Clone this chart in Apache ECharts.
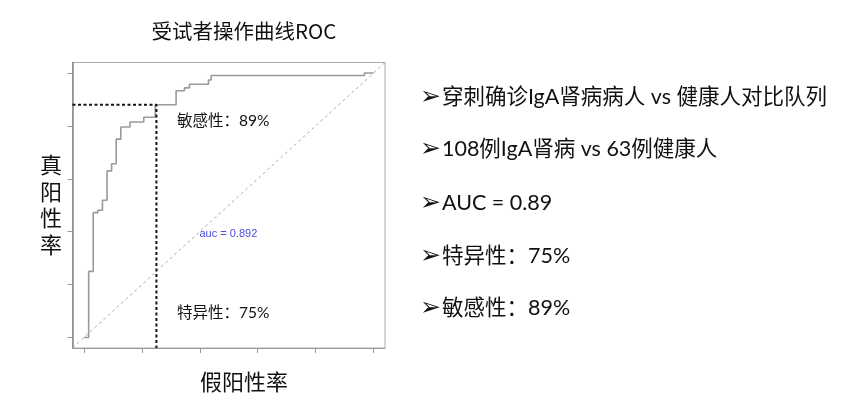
<!DOCTYPE html>
<html>
<head>
<meta charset="utf-8">
<script src="https://cdn.jsdelivr.net/npm/echarts@6/dist/echarts.min.js"></script>
<style>
html,body{margin:0;padding:0;background:#fff;}
#chart{width:865px;height:412px;}
</style>
</head>
<body>
<div id="chart"></div>
<script>
// ROC curve corner points (false positive rate, true positive rate)
var rocFPR = [0, 0.0159, 0.0317, 0.0476, 0.0635, 0.0794, 0.0952, 0.1111, 0.127, 0.1587, 0.2063, 0.246, 0.318, 0.347, 0.364, 0.430, 0.439, 0.969, 1.0];
var rocTPR = [0, 0.250, 0.472, 0.481, 0.519, 0.630, 0.657, 0.750, 0.796, 0.815, 0.833, 0.880, 0.933, 0.944, 0.958, 0.974, 0.991, 1.0, 1.0];
// cutoff point
var cutoffFPR = 0.25;   // 1 - specificity (75%)
var cutoffTPR = 0.88;   // sensitivity
var axisLo = -0.04, axisHi = 1.04;
var tickValues = [0, 0.2, 0.4, 0.6, 0.8, 1.0];
var aucText = 'auc = 0.892';
var chartTitle = '受试者操作曲线ROC';
var xName = '假阳性率';
var yName = '真阳性率';
var sensLabel = '敏感性：89%';
var specLabel = '特异性：75%';
var bulletMark = '➢';
var bullets = [
  '穿刺确诊IgA肾病病人 vs 健康人对比队列',
  '108例IgA肾病 vs 63例健康人',
  'AUC = 0.89',
  '特异性：75%',
  '敏感性：89%'
];
var bulletY = [97, 149, 203, 256, 308];

var cjk = 'Lato, "Noto Sans CJK SC", "DejaVu Sans", sans-serif';
var rocData = rocFPR.map(function (x, i) { return [x, rocTPR[i]]; });
var cutoffData = [[axisLo, cutoffTPR], [cutoffFPR, cutoffTPR], [cutoffFPR, axisLo]];
var diagData = [[axisLo, axisLo], [axisHi, axisHi]];

var graphics = [
  {type:'text', x:244, y:31, style:{text:chartTitle, font:'20.5px "Noto Sans CJK SC", sans-serif', fill:'#111', textAlign:'center', textVerticalAlign:'middle'}},
  {type:'text', x:244, y:383, style:{text:xName, font:'22px ' + cjk, fill:'#111', textAlign:'center', textVerticalAlign:'middle'}},
  {type:'text', x:51, y:206, style:{text:yName.split('').join('\n'), font:'22px ' + cjk, lineHeight:26.7, fill:'#111', textAlign:'center', textVerticalAlign:'middle'}},
  {type:'text', x:177, y:121, style:{text:sensLabel, font:'15.5px ' + cjk, fill:'#111', textAlign:'left', textVerticalAlign:'middle'}},
  {type:'text', x:177, y:313, style:{text:specLabel, font:'15.5px ' + cjk, fill:'#111', textAlign:'left', textVerticalAlign:'middle'}},
  {type:'text', x:199.5, y:233.5, style:{text:aucText, font:'11px "Liberation Sans", Arial, sans-serif', fill:'#4b4bdc', textAlign:'left', textVerticalAlign:'middle'}}
];
bullets.forEach(function (t, i) {
  graphics.push({type:'text', x:420, y:bulletY[i], style:{
    text:'{a|' + bulletMark + '}' + t,
    font:'21.5px ' + cjk, fill:'#111', textAlign:'left', textVerticalAlign:'middle',
    rich:{a:{font:'25px "DejaVu Sans", sans-serif', fill:'#111', padding:[0,1,0,0]}}
  }});
});

var chart = echarts.init(document.getElementById('chart'), null, {renderer:'canvas'});
chart.setOption({
  animation:false,
  backgroundColor:'#fff',
  grid:{left:72.5, top:62.5, width:312.5, height:285.5, show:true, borderColor:'#aaa', borderWidth:1, containLabel:false},
  xAxis:{
    type:'value', min:axisLo, max:axisHi,
    axisLine:{show:true, onZero:false, lineStyle:{color:'#999', width:1}},
    axisTick:{show:true, length:5, customValues:tickValues, lineStyle:{color:'#999'}},
    axisLabel:{show:false},
    splitLine:{show:false}
  },
  yAxis:{
    type:'value', min:axisLo, max:axisHi,
    axisLine:{show:true, onZero:false, lineStyle:{color:'#888', width:1.5}},
    axisTick:{show:true, length:5, customValues:tickValues, lineStyle:{color:'#999'}},
    axisLabel:{show:false},
    splitLine:{show:false}
  },
  series:[
    {type:'line', data:diagData, symbol:'none', silent:true,
     lineStyle:{color:'#aaa', width:1, type:[3,3]}},
    {type:'line', data:rocData, step:'end', symbol:'none', silent:true,
     lineStyle:{color:'#9a9a9a', width:1.6}},
    {type:'line', data:cutoffData, symbol:'none', silent:true,
     lineStyle:{color:'#111', width:2, type:[3,2.5]}}
  ],
  graphic:graphics
});
</script>
</body>
</html>
